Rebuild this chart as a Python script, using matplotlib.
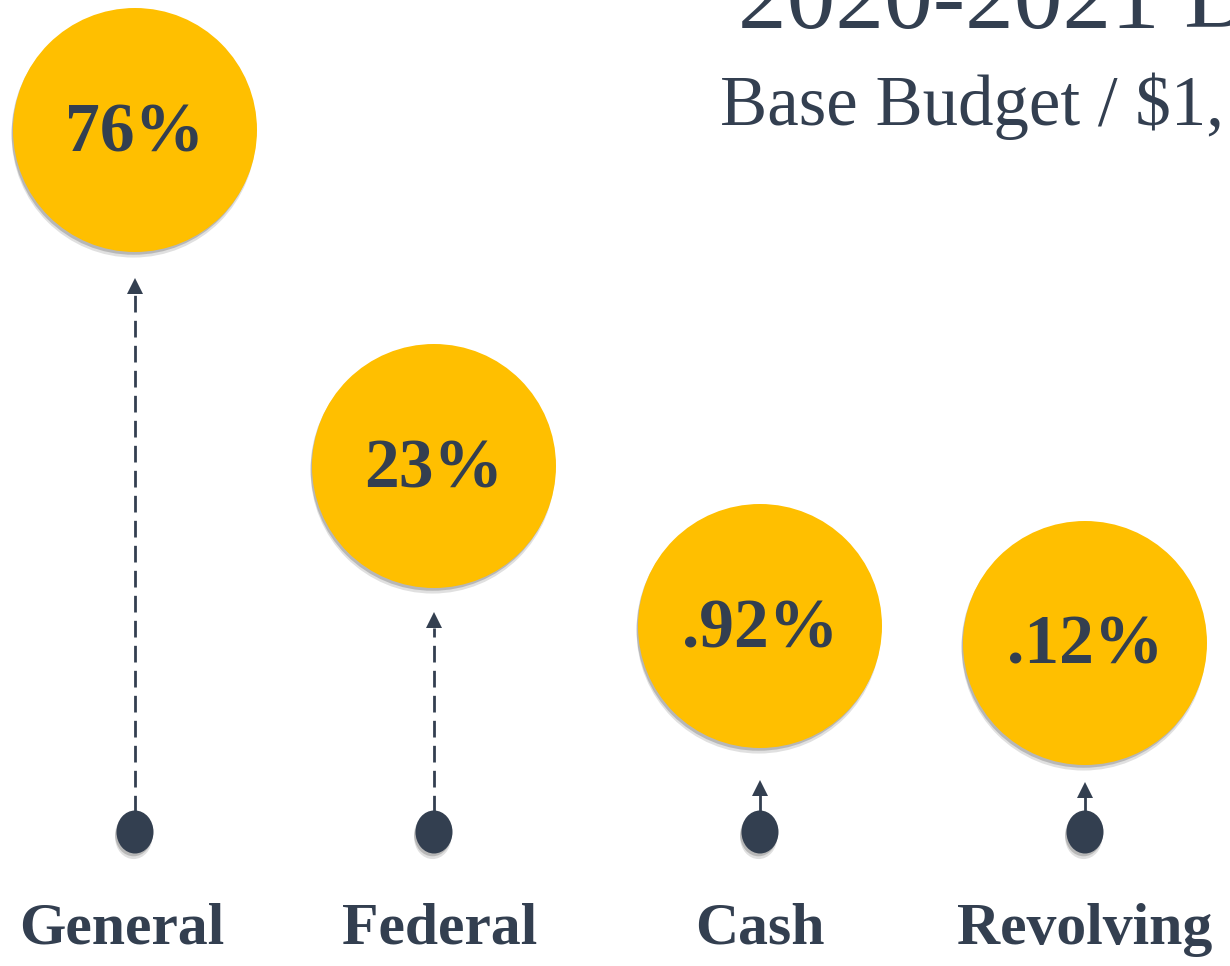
import matplotlib.pyplot as plt
from matplotlib.patches import Circle, Ellipse
import matplotlib.patheffects as pe

# data
categories = ['General', 'Federal', 'Cash', 'Revolving']
shares = ['76%', '23%', '.92%', '.12%']
title = '2020-2021 Budget'
subtitle = 'Base Budget / $1,'

# layout (pixel space, y grows downward)
x_pos = [135, 434, 760, 1085]
bubble_y = [130, 466, 626, 643]
arrow_tip = [278, 612, 780, 782]
label_x = [122, 440, 760, 1085]
radius = 122
dot_y = 832

navy = '#333F50'
gold = '#FFBF00'

plt.rcParams['font.family'] = ['Liberation Serif', 'DejaVu Serif']

fig = plt.figure(figsize=(12.3, 9.66), dpi=100)
ax = fig.add_axes([0, 0, 1, 1])
ax.set_xlim(0, 1230)
ax.set_ylim(966, 0)
ax.axis('off')

# soft-ish drop shadow below the shapes
shadow = [pe.SimplePatchShadow(offset=(-1, -4), shadow_rgbFace='black', alpha=0.12),
          pe.SimplePatchShadow(offset=(-1, -2), shadow_rgbFace='black', alpha=0.18),
          pe.Normal()]

for i in range(len(categories)):
    x = x_pos[i]
    # bubble
    c = Circle((x, bubble_y[i]), radius, facecolor=gold, edgecolor='none', zorder=3)
    c.set_path_effects(shadow)
    ax.add_patch(c)
    ax.text(x, bubble_y[i] + 4, shares[i], ha='center', va='center',
            fontsize=50, fontweight='bold', color=navy, zorder=4)

    # connector: dot -> arrow
    head_len = 16
    top = arrow_tip[i] + head_len
    ls = '--' if (dot_y - 20 - top) > 40 else '-'
    ax.plot([x, x], [dot_y - 20, top], color=navy, lw=2, ls=ls,
            dashes=(6, 3) if ls == '--' else (None, None), zorder=2)
    ax.plot(x, arrow_tip[i] + head_len / 2, marker='^', markersize=11,
            color=navy, markeredgewidth=0, zorder=2)

    d = Ellipse((x, dot_y), 37, 43, facecolor=navy, edgecolor='none', zorder=3)
    d.set_path_effects(shadow)
    ax.add_patch(d)

    ax.text(label_x[i], 930, categories[i], ha='center', va='center',
            fontsize=43, fontweight='bold', color=navy)

ax.text(738, 28, title, ha='left', va='baseline', fontsize=70, color=navy)
ax.text(720, 125, subtitle, ha='left', va='baseline', fontsize=51, color=navy)

fig.savefig('out.png', dpi=100)
